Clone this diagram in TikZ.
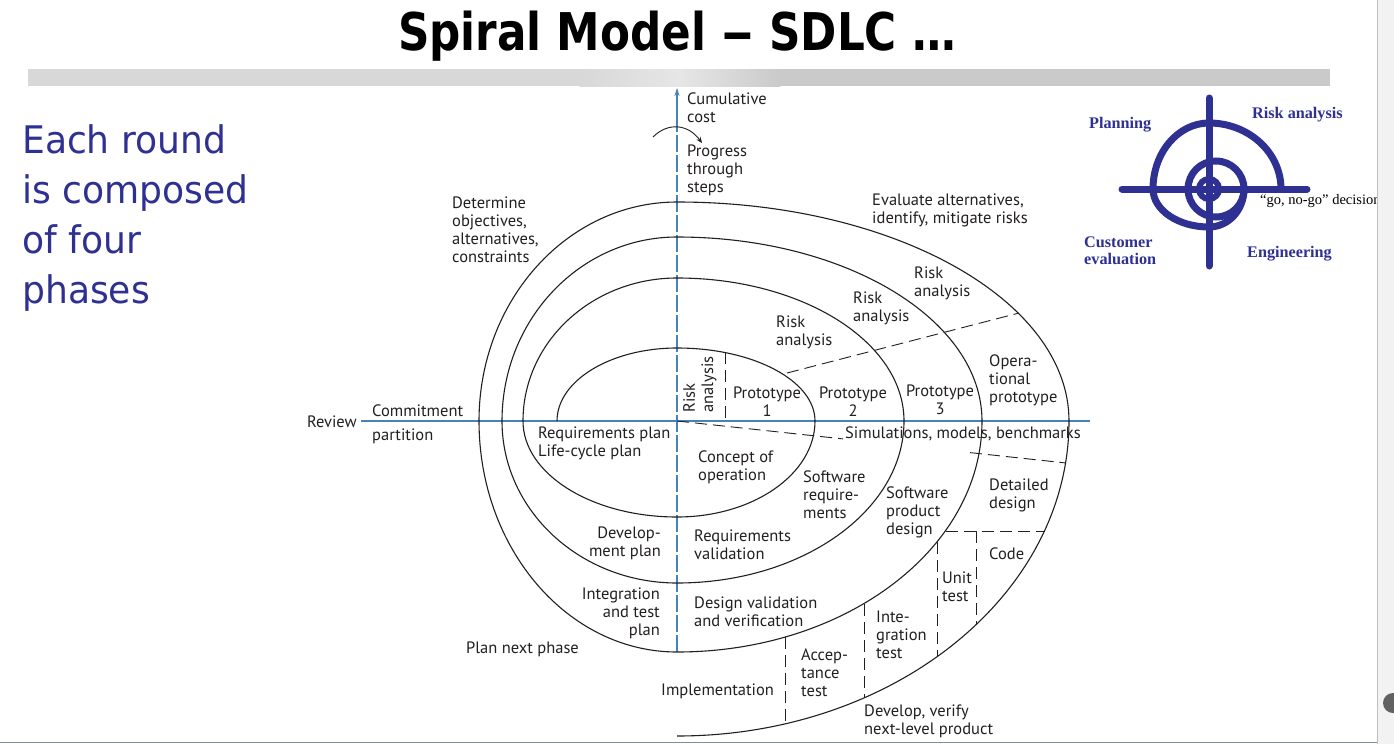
\documentclass[tikz,border=0pt]{standalone}
\usepackage{fontspec}
\usetikzlibrary{arrows.meta}
\newfontfamily\labelfont{PT Sans}
\newfontfamily\headfont{DejaVu Sans}
\newfontfamily\notefont{DejaVu Sans}[FakeStretch=0.95]
\newfontfamily\iconfont{Liberation Serif}
\definecolor{axisblue}{RGB}{72,130,186}
\definecolor{slideblue}{RGB}{46,49,146}
\definecolor{ink}{RGB}{35,31,32}
\definecolor{barlight}{RGB}{216,216,216}
\definecolor{barglow}{RGB}{230,230,230}
\definecolor{bardark}{RGB}{202,202,202}

\begin{document}
\begin{tikzpicture}[x=1pt,y=-1pt,
  % multi-line labels are placed by the baseline of their last line
  lbl/.style={font=\labelfont\fontsize{16.5}{18}\selectfont, text=ink, inner sep=0pt, align=left, anchor=base west},
  lblr/.style={lbl, align=right, anchor=base east},
  lblc/.style={lbl, align=center, anchor=base},
  vlbl/.style={font=\labelfont\fontsize{16.5}{18}\selectfont, text=ink, inner sep=0pt, rotate=90, anchor=west},
  spiral/.style={draw=ink, line width=1.1pt},
  split/.style={draw=ink, line width=0.9pt, dash pattern=on 12pt off 6pt},
  axis/.style={draw=axisblue, line width=1.1pt},
  phase/.style={font=\iconfont\bfseries\fontsize{16.2}{17}\selectfont, text=slideblue, inner sep=0pt, align=left, anchor=base west},
  target/.style={draw=slideblue, line width=7pt, line cap=round}
]
\useasboundingbox (0,0) rectangle (1394,744);
\fill[white] (0,0) rectangle (1394,744);

% slide frame: scroll strip, scroll knob, bottom rule
\fill[black!5] (1377,0) rectangle (1394,744);
\draw[black!25, line width=1pt] (1377,0) -- (1377,744);
\fill[black!62] (1393,703) circle[radius=10];
\draw[color={rgb,255:red,128;green,142;blue,158}, line width=1.6pt] (0,742.5) -- (1377,742.5);

% title and rule bar
\node[anchor=base, inner sep=0pt, font=\headfont\bfseries\fontsize{52}{60}\selectfont] (title) at (677,50)
  {\scalebox{0.84}[1]{Spiral Model \scalebox{1.5}[1]{–} SDLC …}};
\fill[barlight] (28,69) rectangle (580,86);
\shade[left color=barlight, right color=barglow] (579.5,69) rectangle (680,86);
\shade[left color=barglow, right color=bardark] (679.5,69) rectangle (780,86);
\fill[bardark] (779.5,69) rectangle (1330,86);

% slide text
\node[anchor=base west, inner sep=0pt, align=left, text=slideblue,
      font=\notefont\fontsize{38}{50}\selectfont] (rounds) at (22,303)
  {Each round\\is composed\\of four\\phases};

% ---------- spiral diagram ----------
\coordinate (O) at (677,421);
\coordinate (cumtop) at (677,88);
\coordinate (cumbot) at (677,652);
\coordinate (rev) at (361,421);
\coordinate (axend) at (1090,421);

% axes
\draw[axis] (rev) -- (axend);
\draw[axis, dash pattern=on 17pt off 3pt] (cumbot) -- (677,118);
\draw[axis, -{Stealth[length=8pt,width=5pt]}] (677,120) -- (cumtop);

% progress arrow
\coordinate (pa) at (653,137);
\coordinate (pb) at (702,143);
\draw[ink, line width=0.9pt, -{Stealth[length=6pt,width=5pt]}] (pa) .. controls (668,122) and (688,124) .. (pb);

% dashed partitions
\coordinate (ra1) at (787,373);
\coordinate (ra2) at (1019,313);
\draw[split] (ra1) -- (ra2);
\coordinate (sm1) at (843,438.9);
\coordinate (sm2) at (970,452.6);
\coordinate (sm3) at (1066,463);
\draw[split] (O) -- (sm1);
\draw[split] (sm2) -- (sm3);
\draw[split] (725,352) -- (725,421);
\draw[split] (946,531) -- (1045,531);
\draw[split] (976,531) -- (976,625);
\draw[split] (937,542) -- (937,657);
\draw[split] (864,604) -- (864,697);
\draw[split] (785,637) -- (785,724);

% the spiral: quarter ellipses about the axes' crossing
\draw[spiral] (557,421)
  arc[start angle=180, end angle=270, x radius=120, y radius=73]
  arc[start angle=270, end angle=360, x radius=138, y radius=73]
  arc[start angle=0,   end angle=90,  x radius=138, y radius=96]
  arc[start angle=90,  end angle=180, x radius=154, y radius=96]
  arc[start angle=180, end angle=270, x radius=154, y radius=143]
  arc[start angle=270, end angle=360, x radius=227, y radius=143]
  arc[start angle=0,   end angle=90,  x radius=227, y radius=162]
  arc[start angle=90,  end angle=180, x radius=175, y radius=162]
  arc[start angle=180, end angle=270, x radius=175, y radius=184]
  arc[start angle=270, end angle=360, x radius=305, y radius=184]
  arc[start angle=0,   end angle=90,  x radius=305, y radius=231]
  arc[start angle=90,  end angle=180, x radius=198, y radius=231]
  arc[start angle=180, end angle=270, x radius=198, y radius=219]
  arc[start angle=270, end angle=360, x radius=392, y radius=219]
  arc[start angle=0,   end angle=90,  x radius=392, y radius=315];

% labels
\node[lbl] (cum) at (687,122) {Cumulative\\cost};
\node[lbl] (prog) at (687,192) {Progress\\through\\steps};
\node[lbl] (determine) at (452,262) {Determine\\objectives,\\alternatives,\\constraints};
\node[lbl] (evaluate) at (872,223) {Evaluate alternatives,\\identify, mitigate risks};
\node[lbl] (risk4) at (914,296) {Risk\\analysis};
\node[lbl] (risk3) at (853,321) {Risk\\analysis};
\node[lbl] (risk2) at (776,345) {Risk\\analysis};
\node[vlbl] (risk1a) at (689,413) {Risk};
\node[vlbl] (risk1b) at (709,413) {analysis};
\node[lblc] (proto1) at (767,416) {Prototype\\1};
\node[lblc] (proto2) at (853,416) {Prototype\\2};
\node[lblc] (proto3) at (940,414) {Prototype\\3};
\node[lbl] (opproto) at (989,402) {Opera-\\tional\\prototype};
\node[lblr] (review) at (357,427) {Review};
\node[lbl] (commit) at (372,416) {Commitment};
\node[lbl] (partition) at (372,440) {partition};
\node[lbl] (reqplan) at (538,456) {Requirements plan\\Life-cycle plan};
\node[lbl] (sims) at (845,438) {Simulations, models, benchmarks};
\node[lbl] (concept) at (698,480) {Concept of\\operation};
\node[lbl] (swreq) at (803,518) {Software\\require-\\ments};
\node[lbl] (swdesign) at (886,534) {Software\\product\\design};
\node[lbl] (detailed) at (989,508) {Detailed\\design};
\node[lblr] (devplan) at (661,556) {Develop-\\ment plan};
\node[lbl] (reqval) at (694,559) {Requirements\\validation};
\node[lbl] (code) at (989,559) {Code};
\node[lbl] (unit) at (942,601) {Unit\\test};
\node[lblr] (itplan) at (660,635) {Integration\\and test\\plan};
\node[lbl] (desval) at (694,626) {Design validation\\and verification};
\node[lbl] (integ) at (876,658) {Inte-\\gration\\test};
\node[lbl] (plannext) at (466,653) {Plan next phase};
\node[lbl] (accept) at (801,696) {Accep-\\tance\\test};
\node[lbl] (impl) at (661,695) {Implementation};
\node[lbl] (develop) at (864,734) {Develop, verify\\next-level product};

% ---------- four-phase target ----------
\coordinate (T) at (1209,189);
\draw[target] (1209,98) -- (1209,266);
\draw[target] (1122,189) -- (1307,189);
% outer sweep winding inwards onto the middle ring
\draw[target, line cap=butt] (1281,189)
  arc[start angle=0,    end angle=-90,  x radius=72, y radius=66]
  arc[start angle=-90,  end angle=-180, x radius=56, y radius=66]
  arc[start angle=-180, end angle=-270, x radius=56, y radius=38]
  arc[start angle=-270, end angle=-360, x radius=35, y radius=38];
\draw[target] (1216,189) circle[radius=28];
\draw[target, line width=6pt] (T) circle[radius=10];
\node[phase] (planning) at (1089,128) {Planning};
\node[phase] (riskan) at (1252,118) {Risk analysis};
\node[phase] (custeval) at (1084,264) {Customer\\evaluation};
\node[phase] (engineering) at (1247,257) {Engineering};
\begin{scope}
  \clip (1200,150) rectangle (1376.5,230);
  \node[anchor=base west, inner sep=0pt, font=\iconfont\fontsize{14.5}{16}\selectfont] (gonogo) at (1260,204)
    {“go, no-go” decision};
\end{scope}
\end{tikzpicture}
\end{document}
